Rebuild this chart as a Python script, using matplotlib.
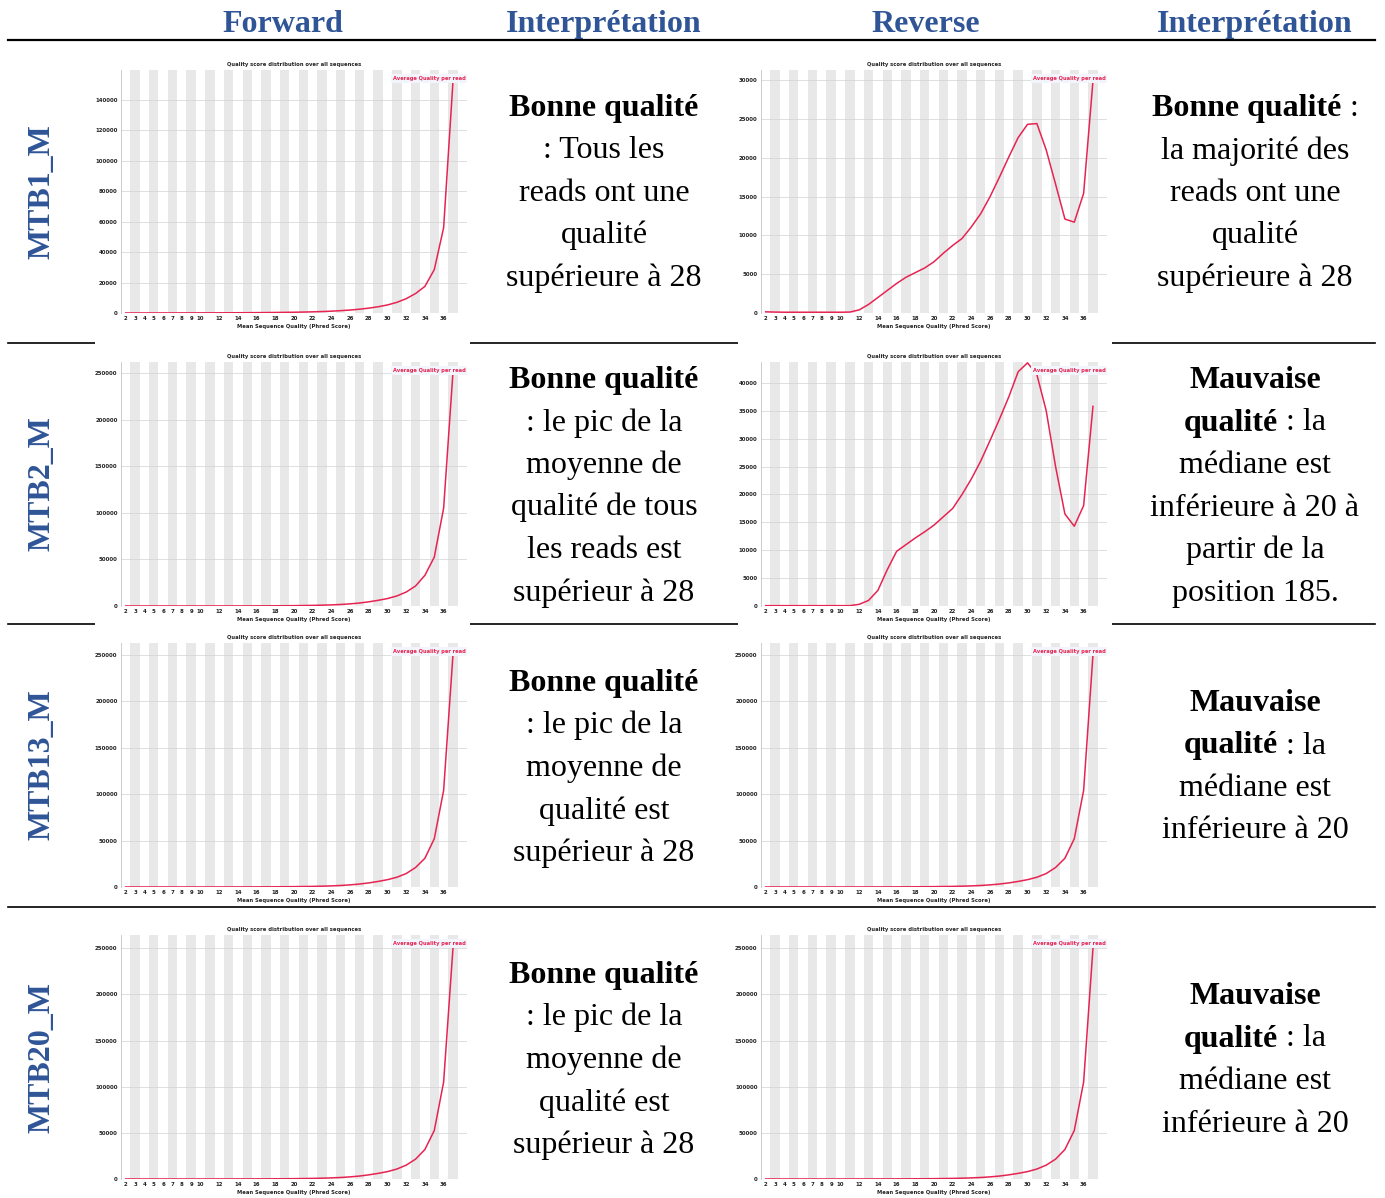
import numpy as np
import matplotlib
matplotlib.use('Agg')
import matplotlib.pyplot as plt
from matplotlib.patches import Rectangle

# Score Phred moyen par read (axe des x des graphes FastQC)
qualites = np.arange(2, 38)
graduations_x = [2, 3, 4, 5, 6, 7, 8, 9, 10, 12, 14, 16, 18, 20, 22, 24, 26, 28, 30, 32, 34, 36]

# Nombre de reads par score moyen, lu sur chaque graphe
mtb1_fwd = [20, 25, 30, 35, 40, 50, 60, 70, 85, 100, 120, 140, 170, 200, 240, 290, 350, 420,
            510, 620, 760, 950, 1200, 1550, 1950, 2500, 3200, 4100, 5300, 7000, 9400, 12800,
            17500, 28500, 56000, 152000]
mtb1_rev = [150, 120, 100, 100, 100, 100, 100, 100, 100, 120, 400, 1100, 2000, 2900, 3800,
            4600, 5200, 5800, 6600, 7700, 8700, 9600, 11100, 12800, 15000, 17500, 20100, 22600,
            24300, 24400, 21000, 16600, 12100, 11700, 15400, 29900]
mtb2_fwd = [30, 30, 30, 30, 30, 30, 30, 30, 30, 40, 50, 60, 80, 100, 130, 170, 220, 290, 380,
            500, 660, 880, 1200, 1650, 2300, 3200, 4500, 6100, 8000, 10800, 15000, 21500, 33000,
            52500, 105000, 251000]
mtb2_rev = [60, 60, 60, 60, 60, 60, 60, 60, 60, 60, 300, 1000, 2800, 6500, 9800, 11000, 12200,
            13300, 14500, 16000, 17500, 20000, 22800, 26000, 29700, 33500, 37500, 42000, 43600,
            41500, 35000, 25000, 16500, 14300, 18000, 35800]
mtb13_fwd = [30, 30, 30, 30, 30, 30, 30, 30, 30, 40, 50, 60, 80, 100, 130, 170, 220, 290, 380,
             500, 660, 880, 1200, 1650, 2300, 3200, 4400, 6000, 7900, 10500, 14500, 21000, 31000,
             52000, 104000, 250000]
mtb13_rev = [30, 30, 30, 30, 30, 30, 30, 30, 30, 40, 50, 60, 80, 100, 130, 170, 220, 290, 380,
             500, 660, 880, 1200, 1650, 2300, 3200, 4400, 6000, 7900, 10500, 14500, 21000, 31000,
             52000, 104000, 250000]
mtb20_fwd = [30, 30, 30, 30, 30, 30, 30, 30, 30, 40, 50, 60, 80, 100, 130, 170, 220, 290, 380,
             500, 660, 880, 1200, 1650, 2300, 3200, 4500, 6100, 8000, 10800, 15000, 21500, 32000,
             52500, 105000, 250000]
mtb20_rev = [30, 30, 30, 30, 30, 30, 30, 30, 30, 40, 50, 60, 80, 100, 130, 170, 220, 290, 380,
             500, 660, 880, 1200, 1650, 2300, 3200, 4500, 6100, 8000, 10800, 15000, 21500, 32000,
             52500, 105000, 250000]

# Haut de l'axe y et pas des graduations de chaque graphe
plafonds = [[159700, 31300], [262100, 43750], [262900, 262900], [264400, 264400]]
pas_y = [[20000, 5000], [50000, 5000], [50000, 50000], [50000, 50000]]

echantillons = ['MTB1_M', 'MTB2_M', 'MTB13_M', 'MTB20_M']
series = [[mtb1_fwd, mtb1_rev], [mtb2_fwd, mtb2_rev], [mtb13_fwd, mtb13_rev], [mtb20_fwd, mtb20_rev]]

# Interprétations : liste de lignes, chaque ligne = morceaux (texte, gras ?)
interp_fwd = [
    [[('Bonne qualité', True)], [(': Tous les', False)], [('reads ont une', False)],
     [('qualité', False)], [('supérieure à 28', False)]],
    [[('Bonne qualité', True)], [(': le pic de la', False)], [('moyenne de', False)],
     [('qualité de tous', False)], [('les reads est', False)], [('supérieur à 28', False)]],
    [[('Bonne qualité', True)], [(': le pic de la', False)], [('moyenne de', False)],
     [('qualité est', False)], [('supérieur à 28', False)]],
    [[('Bonne qualité', True)], [(': le pic de la', False)], [('moyenne de', False)],
     [('qualité est', False)], [('supérieur à 28', False)]],
]
interp_rev = [
    [[('Bonne qualité', True), (':', False)], [('la majorité des', False)], [('reads ont une', False)],
     [('qualité', False)], [('supérieure à 28', False)]],
    [[('Mauvaise', True)], [('qualité', True), (': la', False)], [('médiane est', False)],
     [('inférieure à 20 à', False)], [('partir de la', False)], [('position 185.', False)]],
    [[('Mauvaise', True)], [('qualité', True), (': la', False)], [('médiane est', False)],
     [('inférieure à 20', False)]],
    [[('Mauvaise', True)], [('qualité', True), (': la', False)], [('médiane est', False)],
     [('inférieure à 20', False)]],
]

W, H = 1385, 1198
BLEU = '#2f5597'
ROUGE = '#e62452'
SERIF = 'Liberation Serif'

fig = plt.figure(figsize=(W / 100, H / 100), dpi=100)
fond = fig.add_axes([0, 0, 1, 1])
fond.set_xlim(0, W)
fond.set_ylim(H, 0)
fond.axis('off')

# Filets du tableau
fond.plot([8, 1375], [40, 40], color='black', lw=1.6, zorder=2)
for y in [343, 624, 907]:
    fond.plot([8, 1375], [y, y], color='black', lw=1.2, zorder=2)

# En-têtes
for x, txt in [(283, 'Forward'), (604, 'Interprétation'), (926, 'Reverse'), (1255, 'Interprétation')]:
    fond.text(x, 32, txt, ha='center', va='baseline', color=BLEU, fontsize=23,
              fontweight='bold', family=SERIF)

# Positions des graphes (pixels) : haut / bas de la zone de tracé
lignes_px = [(70, 313), (362, 606), (643, 887), (935, 1179)]
colonnes_px = [(121, 467), (761, 1107)]
cadres_y = [(55, 338), (340, 627), (621, 905), (916, 1198)]
cadres_x = [(95, 470), (738, 1112)]
centres_lbl = [192, 484, 765, 1058]
premieres_lignes = [[116, 116], [388, 388], [691, 711], [983, 1004]]
interligne = 42.5

renderer = fig.canvas.get_renderer()


def ligne_texte(xc, yb, morceaux):
    objs, largeurs = [], []
    for txt, gras in morceaux:
        t = fond.text(0, yb, txt, ha='left', va='baseline', fontsize=23, family=SERIF,
                      fontweight='bold' if gras else 'normal', color='black')
        objs.append(t)
        largeurs.append(t.get_window_extent(renderer).width)
    espace = 8
    total = sum(largeurs) + espace * (len(objs) - 1)
    x = xc - total / 2
    for t, lg in zip(objs, largeurs):
        t.set_x(x)
        x += lg + espace


def trace_qc(ax, valeurs, ymax, pas):
    for k in range(3, 38, 2):
        ax.axvspan(k - 0.5, k + 0.5, color='#e8e8e8', lw=0, zorder=0)
    ax.set_xlim(1.5, 38.5)
    ax.set_ylim(0, ymax)
    ticks = np.arange(0, ymax, pas)
    for t in ticks[1:]:
        ax.axhline(t, color='#d2d2d2', lw=0.5, zorder=1)
    ax.plot(qualites, valeurs, color=ROUGE, lw=1.1, zorder=3)
    ax.set_yticks(ticks)
    ax.set_yticklabels([str(int(t)) for t in ticks])
    ax.set_xticks(graduations_x)
    ax.set_xticklabels([str(v) for v in graduations_x])
    ax.tick_params(length=0, labelsize=3.9, pad=2.5, labelcolor='#222222')
    for lbl in ax.get_xticklabels() + ax.get_yticklabels():
        lbl.set_fontweight('bold')
    for s in ['top', 'right', 'bottom']:
        ax.spines[s].set_visible(False)
    ax.spines['left'].set_color('#c4c4c4')
    ax.spines['left'].set_linewidth(0.6)
    ax.set_facecolor('white')
    ax.set_title('Quality score distribution over all sequences', fontsize=3.8,
                 fontweight='bold', pad=3, color='#222222')
    ax.set_xlabel('Mean Sequence Quality (Phred Score)', fontsize=3.8,
                  fontweight='bold', labelpad=1.5, color='#222222')
    ax.text(0.995, 0.975, 'Average Quality per read', transform=ax.transAxes,
            ha='right', va='top', color=ROUGE, fontsize=3.7, fontweight='bold', zorder=4,
            bbox=dict(facecolor='#f2f5fb', edgecolor='none', pad=1.2))


for i, nom in enumerate(echantillons):
    # cadres blancs des captures FastQC (masquent les filets)
    for j in range(2):
        x0, x1 = cadres_x[j]
        y0, y1 = cadres_y[i]
        fond.add_patch(Rectangle((x0, y0), x1 - x0, y1 - y0, facecolor='white',
                                 edgecolor='none', zorder=3))
    fond.text(42, centres_lbl[i], nom, rotation=90, ha='center', va='center',
              color=BLEU, fontsize=23, fontweight='bold', family=SERIF)

    haut, bas = lignes_px[i]
    for j in range(2):
        gx, dx = colonnes_px[j]
        ax = fig.add_axes([gx / W, 1 - bas / H, (dx - gx) / W, (bas - haut) / H])
        trace_qc(ax, series[i][j], plafonds[i][j], pas_y[i][j])

    for j, (xc, textes) in enumerate([(604, interp_fwd[i]), (1255, interp_rev[i])]):
        y = premieres_lignes[i][j]
        for morceaux in textes:
            ligne_texte(xc, y, morceaux)
            y += interligne

fig.savefig('out.png', dpi=100, facecolor='white')
